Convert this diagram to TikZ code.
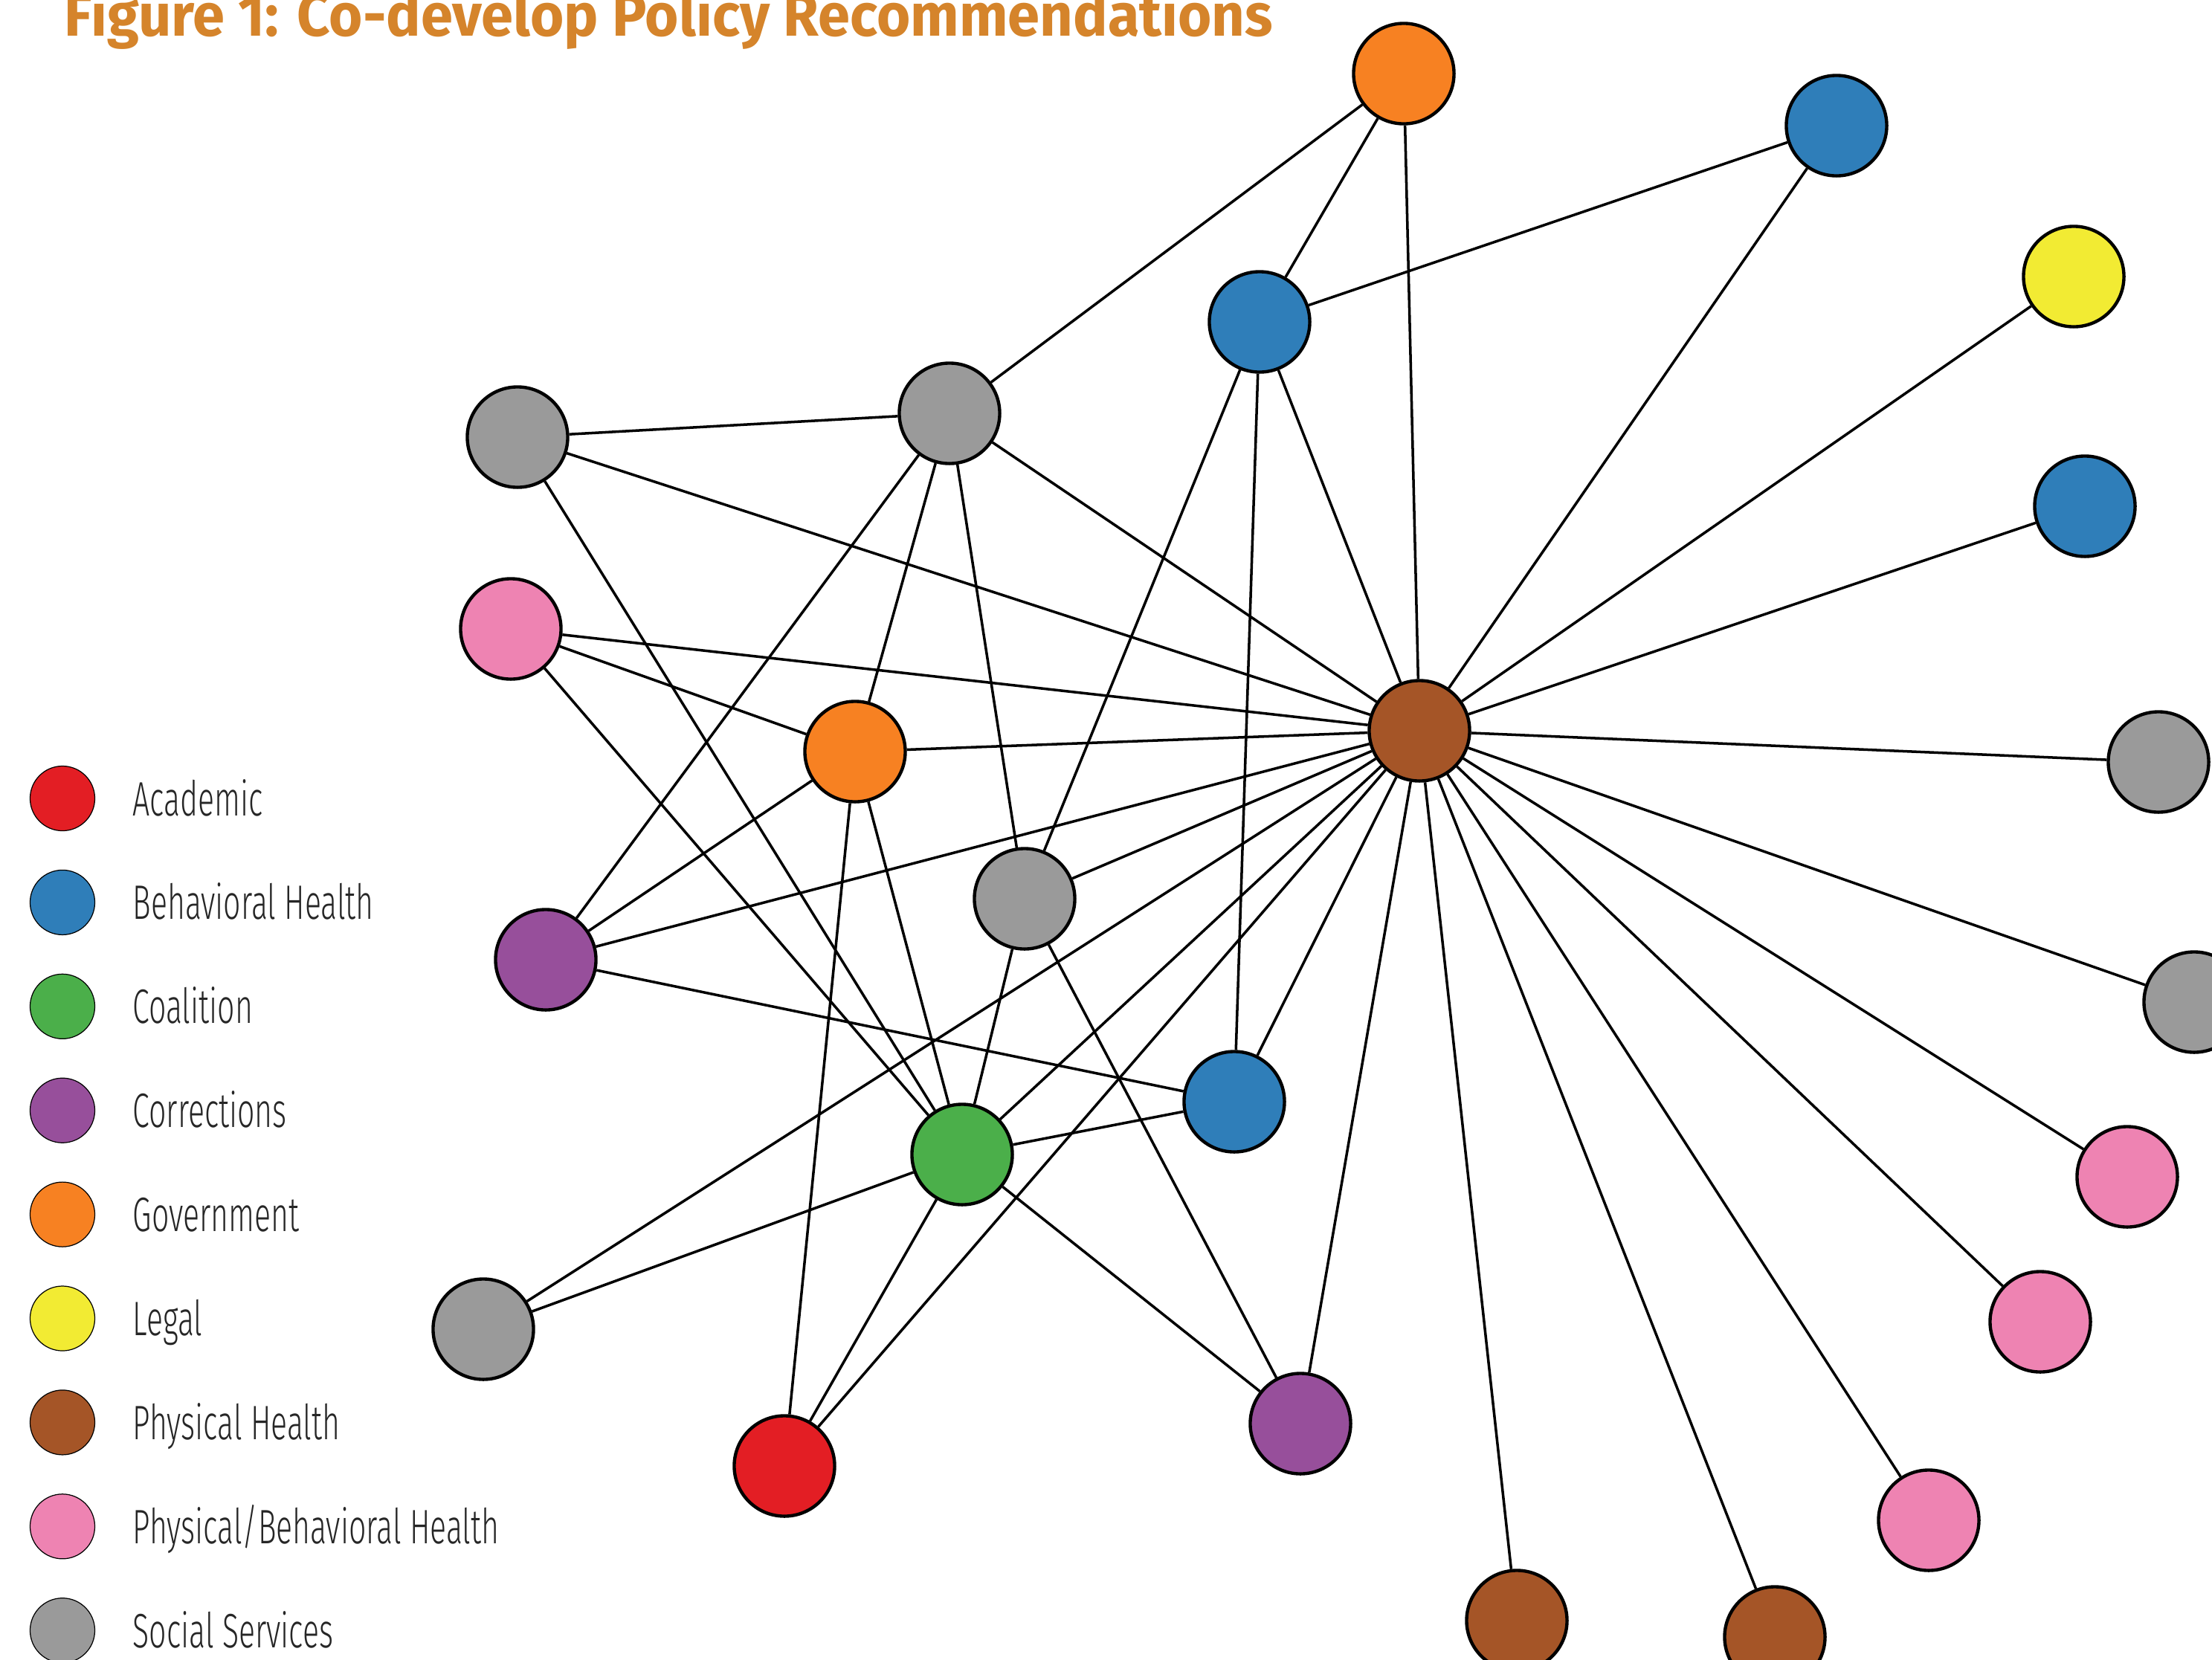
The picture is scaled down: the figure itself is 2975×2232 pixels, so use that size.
\documentclass[tikz,border=0pt]{standalone}
\usepackage{fontspec}
\usetikzlibrary{backgrounds}
\newfontfamily\titlefont[FakeStretch=0.96]{Fira Sans Bold}
\newfontfamily\legfont[FakeStretch=0.63]{Fira Sans Light}
\definecolor{cacad}{HTML}{E31E24}
\definecolor{cbeh}{HTML}{2F7EB9}
\definecolor{ccoal}{HTML}{4BAF4A}
\definecolor{ccorr}{HTML}{974F9B}
\definecolor{cgov}{HTML}{F78122}
\definecolor{clegal}{HTML}{F2EB33}
\definecolor{cphys}{HTML}{A55527}
\definecolor{cpb}{HTML}{EE83B2}
\definecolor{csoc}{HTML}{9A9A9A}
\definecolor{ctitle}{HTML}{D5842B}
\tikzset{
  gnode/.style={circle, draw=black, line width=1.25pt, minimum size=1.35cm, inner sep=0pt},
  lnode/.style={circle, draw=black, line width=0.35pt, minimum size=0.87cm, inner sep=0pt},
  edge/.style={draw=black, line width=1.0pt},
  legtext/.style={anchor=base west, inner sep=0pt, font=\legfont\fontsize{18.5}{20}\selectfont, text=black!85}
}
\begin{document}
\begin{tikzpicture}[x=0.01cm, y=-0.01cm]
\useasboundingbox (0,0) rectangle (2975,2232);
\begin{scope}
\clip (0,0) rectangle (2975,2232);
% nodes
\node[gnode, fill=cgov]  (oT)    at (1888,99)   {};
\node[gnode, fill=cbeh]  (bTR)   at (2470,169)  {};
\node[gnode, fill=clegal](yel)   at (2789,372)  {};
\node[gnode, fill=cbeh]  (bR)    at (2804,681)  {};
\node[gnode, fill=csoc]  (gR)    at (2903,1025) {};
\node[gnode, fill=csoc]  (gFR)   at (2951,1348) {};
\node[gnode, fill=cpb]   (p1)    at (2861,1583) {};
\node[gnode, fill=cpb]   (p2)    at (2744,1778) {};
\node[gnode, fill=cpb]   (p3)    at (2594,2045) {};
\node[gnode, fill=cphys] (br1)   at (2387,2202) {};
\node[gnode, fill=cphys] (br2)   at (2040,2180) {};
\node[gnode, fill=ccorr] (purB)  at (1749,1915) {};
\node[gnode, fill=cacad] (red)   at (1055,1972) {};
\node[gnode, fill=csoc]  (gBL)   at (650,1788)  {};
\node[gnode, fill=ccoal] (green) at (1294,1553) {};
\node[gnode, fill=cbeh]  (bC)    at (1660,1482) {};
\node[gnode, fill=csoc]  (gC)    at (1378,1209) {};
\node[gnode, fill=ccorr] (purL)  at (734,1291)  {};
\node[gnode, fill=cgov]  (orC)   at (1150,1011) {};
\node[gnode, fill=cpb]   (pinkL) at (687,846)   {};
\node[gnode, fill=csoc]  (gTL)   at (696,588)   {};
\node[gnode, fill=csoc]  (gT)    at (1277,556)  {};
\node[gnode, fill=cbeh]  (bT)    at (1694,433)  {};
\node[gnode, fill=cphys] (hub)   at (1909,983)  {};
\end{scope}
% edges
\begin{pgfonlayer}{background}
\clip (0,0) rectangle (2975,2232);
\foreach \t in {oT,bTR,yel,bR,gR,gFR,p1,p2,p3,br1,br2,purB,red,gBL,green,bC,gC,purL,orC,pinkL,gTL,gT,bT}
  \path[edge] (hub) -- (\t);
\path[edge] (oT) -- (gT);
\path[edge] (oT) -- (bT);
\path[edge] (bT) -- (bTR);
\path[edge] (bT) -- (bC);
\path[edge] (bT) -- (gC);
\path[edge] (gTL) -- (gT);
\path[edge] (gTL) -- (green);
\path[edge] (gT) -- (purL);
\path[edge] (gT) -- (orC);
\path[edge] (gT) -- (gC);
\path[edge] (pinkL) -- (orC);
\path[edge] (pinkL) -- (green);
\path[edge] (orC) -- (purL);
\path[edge] (orC) -- (green);
\path[edge] (orC) -- (red);
\path[edge] (purL) -- (bC);
\path[edge] (gC) -- (green);
\path[edge] (gC) -- (purB);
\path[edge] (green) -- (bC);
\path[edge] (green) -- (gBL);
\path[edge] (green) -- (red);
\path[edge] (green) -- (purB);
\end{pgfonlayer}
% title
\node[anchor=base west, inner sep=0pt, text=ctitle, font=\titlefont\fontsize{23}{26}\selectfont] (title) at (86,48) {Figure 1: Co-develop Policy Recommendations};
% legend
\foreach \i/\c/\lab in {0/cacad/{Academic}, 1/cbeh/{Behavioral Health}, 2/ccoal/{Coalition}, 3/ccorr/{Corrections}, 4/cgov/{Government}, 5/clegal/{Legal}, 6/cphys/{Physical Health}, 7/cpb/{Physical/Behavioral Health}, 8/csoc/{Social Services}} {
  \node[lnode, fill=\c] (leg\i) at (84,{1074+139.9*\i}) {};
  \node[legtext] (legt\i) at (178,{1074+139.9*\i+23}) {\lab};
}
\end{tikzpicture}
\end{document}
